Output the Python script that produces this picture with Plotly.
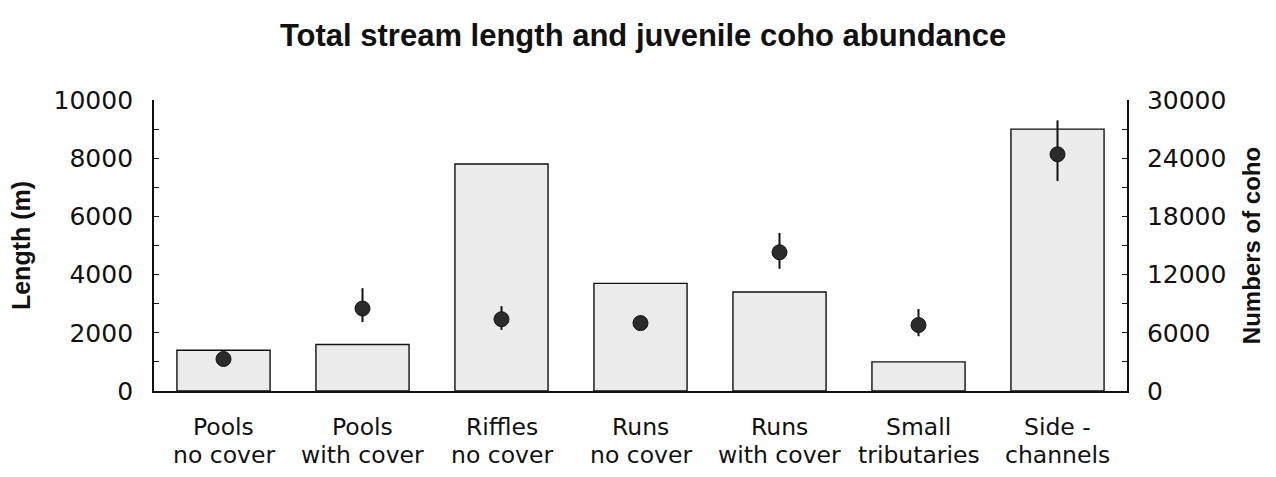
import plotly.graph_objects as go

# Habitat categories, split into the two label lines drawn under each bar
label_top = ["Pools", "Pools", "Riffles", "Runs", "Runs", "Small", "Side -"]
label_bottom = ["no cover", "with cover", "no cover", "no cover", "with cover", "tributaries", "channels"]

# Total stream length per habitat (m), left axis
length_m = [1400, 1600, 7800, 3700, 3400, 1000, 9000]

# Estimated juvenile coho numbers, right axis, with asymmetric error bars
coho_numbers = [3300, 8500, 7400, 7000, 14300, 6800, 24400]
coho_err_plus = [0, 2100, 1350, 0, 2000, 1650, 3500]
coho_err_minus = [0, 1400, 1100, 0, 1700, 1150, 2750]

BOLD_FONT = "Liberation Sans, Arial, Helvetica, sans-serif"
TICK_FONT = "DejaVu Sans, Verdana, sans-serif"
INK = "#111111"

W, H = 1276, 477
M_L, M_R, M_T, M_B = 154, 149, 100, 86
PLOT_H = H - M_T - M_B

x_idx = list(range(len(label_top)))

fig = go.Figure()

fig.add_trace(go.Bar(
    x=x_idx,
    y=length_m,
    width=0.67,
    marker=dict(color="#ebebeb", line=dict(color=INK, width=1.4)),
    yaxis="y",
    showlegend=False,
))

fig.add_trace(go.Scatter(
    x=x_idx,
    y=coho_numbers,
    mode="markers",
    marker=dict(size=15, color="#2b2b2b", line=dict(color=INK, width=1)),
    error_y=dict(
        type="data",
        symmetric=False,
        array=coho_err_plus,
        arrayminus=coho_err_minus,
        color=INK,
        thickness=2,
        width=0,
    ),
    yaxis="y2",
    showlegend=False,
))


def px_to_paper(py):
    """Convert a vertical pixel position to paper coordinates."""
    return (H - M_B - py) / PLOT_H


# Two-line category labels under the x axis
for i, (top, bottom) in enumerate(zip(label_top, label_bottom)):
    for text, py in ((top, 427), (bottom, 455)):
        fig.add_annotation(
            x=i, xref="x",
            y=px_to_paper(py), yref="paper",
            text=text, showarrow=False,
            xanchor="center", yanchor="middle",
            font=dict(size=23.5, family=TICK_FONT, color=INK),
        )

fig.update_layout(
    width=W,
    height=H,
    margin=dict(l=M_L, r=M_R, t=M_T, b=M_B),
    paper_bgcolor="white",
    plot_bgcolor="white",
    font=dict(family=BOLD_FONT, color=INK),
    title=dict(
        text="<b>Total stream length and juvenile coho abundance</b>",
        x=0.504,
        xanchor="center",
        y=1 - 35 / H,
        yanchor="middle",
        yref="container",
        font=dict(size=31, family=BOLD_FONT, color=INK),
    ),
    xaxis=dict(
        range=[-0.5, 6.5],
        showticklabels=False,
        ticks="",
        showline=True,
        linecolor=INK,
        linewidth=2,
        showgrid=False,
        zeroline=False,
    ),
    yaxis=dict(
        range=[0, 10000],
        tick0=0,
        dtick=2000,
        tickformat="d",
        ticks="inside",
        ticklen=5,
        tickcolor=INK,
        minor=dict(dtick=1000, ticks="inside", ticklen=5, tickcolor=INK),
        showline=True,
        linecolor=INK,
        linewidth=1.8,
        showgrid=False,
        zeroline=False,
        tickfont=dict(size=25, family=TICK_FONT, color=INK),
        ticklabelstandoff=14,
        title=dict(text="<b>Length (m)</b>", font=dict(size=25, family=BOLD_FONT, color=INK), standoff=16),
    ),
    yaxis2=dict(
        range=[0, 30000],
        overlaying="y",
        side="right",
        tick0=0,
        dtick=6000,
        tickformat="d",
        ticks="inside",
        ticklen=5,
        tickcolor=INK,
        minor=dict(dtick=3000, ticks="inside", ticklen=5, tickcolor=INK),
        showline=True,
        linecolor=INK,
        linewidth=1.8,
        showgrid=False,
        zeroline=False,
        tickfont=dict(size=25, family=TICK_FONT, color=INK),
        ticklabelstandoff=13,
        title=dict(text="<b>Numbers of coho</b>", font=dict(size=24, family=BOLD_FONT, color=INK), standoff=18),
    ),
)

fig.write_html("out.html")
